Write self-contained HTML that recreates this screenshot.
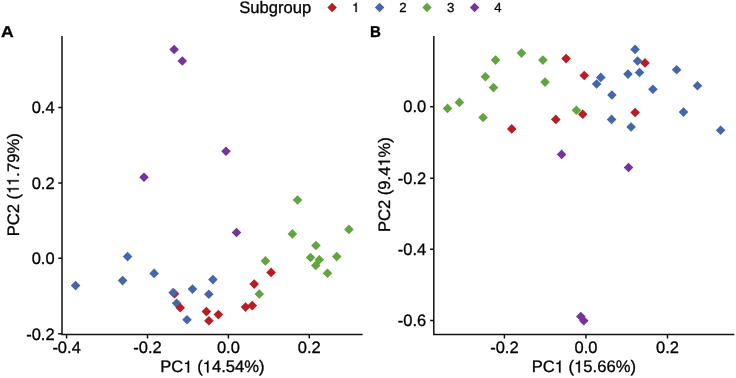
<!DOCTYPE html>
<html><head><meta charset="utf-8"><style>
html,body{margin:0;padding:0;background:#fff;}
body{width:736px;height:378px;overflow:hidden;font-family:"Liberation Sans",sans-serif;}
svg{display:block;will-change:transform;}
.o{fill-opacity:0;stroke-opacity:0;}
</style></head><body>
<svg width="736" height="378" viewBox="0 0 736 378" font-family="'Liberation Sans', sans-serif" font-size="16.5" fill="#000" text-rendering="geometricPrecision">
<rect width="736" height="378" fill="#fff"/>
<path d="M62.0 36V334.5H362.6" fill="none" stroke="#111" stroke-width="1.5"/><path d="M433.8 36V334.5H734.3" fill="none" stroke="#111" stroke-width="1.5"/><path d="M66.60 334.5V338.4 M147.50 334.5V338.4 M228.40 334.5V338.4 M309.30 334.5V338.4 M504.40 334.5V338.4 M585.95 334.5V338.4 M667.50 334.5V338.4 M58.2 107.50H62.0 M58.2 182.90H62.0 M58.2 258.30H62.0 M58.2 333.75H62.0 M430.1 106.75H433.8 M430.1 178.20H433.8 M430.1 249.30H433.8 M430.1 320.60H433.8" fill="none" stroke="#111" stroke-width="1.5"/>
<path d="M169.80 293.80L174.60 289.00L179.40 293.80L174.60 298.60Z" fill="#B71E23"/><path d="M70.80 285.60L75.60 280.80L80.40 285.60L75.60 290.40ZM122.80 256.60L127.60 251.80L132.40 256.60L127.60 261.40ZM117.80 280.60L122.60 275.80L127.40 280.60L122.60 285.40ZM149.30 273.40L154.10 268.60L158.90 273.40L154.10 278.20ZM168.40 292.60L173.20 287.80L178.00 292.60L173.20 297.40ZM187.70 289.10L192.50 284.30L197.30 289.10L192.50 293.90ZM208.10 279.60L212.90 274.80L217.70 279.60L212.90 284.40ZM204.00 294.20L208.80 289.40L213.60 294.20L208.80 299.00ZM171.80 303.20L176.60 298.40L181.40 303.20L176.60 308.00ZM182.20 319.75L187.00 314.95L191.80 319.75L187.00 324.55Z" fill="#4566A9"/><path d="M266.30 272.40L271.10 267.60L275.90 272.40L271.10 277.20ZM249.40 284.10L254.20 279.30L259.00 284.10L254.20 288.90ZM247.45 305.60L252.25 300.80L257.05 305.60L252.25 310.40ZM240.70 307.10L245.50 302.30L250.30 307.10L245.50 311.90ZM201.60 311.60L206.40 306.80L211.20 311.60L206.40 316.40ZM213.60 314.60L218.40 309.80L223.20 314.60L218.40 319.40ZM204.10 320.75L208.90 315.95L213.70 320.75L208.90 325.55ZM175.40 307.80L180.20 303.00L185.00 307.80L180.20 312.60Z" fill="#B71E23"/><path d="M292.70 200.00L297.50 195.20L302.30 200.00L297.50 204.80ZM287.60 233.90L292.40 229.10L297.20 233.90L292.40 238.70ZM344.10 229.40L348.90 224.60L353.70 229.40L348.90 234.20ZM311.10 245.50L315.90 240.70L320.70 245.50L315.90 250.30ZM305.70 257.50L310.50 252.70L315.30 257.50L310.50 262.30ZM314.50 259.75L319.30 254.95L324.10 259.75L319.30 264.55ZM310.95 265.50L315.75 260.70L320.55 265.50L315.75 270.30ZM331.95 256.60L336.75 251.80L341.55 256.60L336.75 261.40ZM322.70 273.20L327.50 268.40L332.30 273.20L327.50 278.00ZM260.60 260.90L265.40 256.10L270.20 260.90L265.40 265.70ZM254.45 294.00L259.25 289.20L264.05 294.00L259.25 298.80Z" fill="#63A440"/><path d="M169.30 49.50L174.10 44.70L178.90 49.50L174.10 54.30ZM177.50 61.00L182.30 56.20L187.10 61.00L182.30 65.80ZM139.20 177.25L144.00 172.45L148.80 177.25L144.00 182.05ZM221.20 151.25L226.00 146.45L230.80 151.25L226.00 156.05ZM231.70 232.50L236.50 227.70L241.30 232.50L236.50 237.30Z" fill="#76349A"/><path d="M490.80 60.10L495.60 55.30L500.40 60.10L495.60 64.90ZM480.60 76.80L485.40 72.00L490.20 76.80L485.40 81.60ZM516.70 53.10L521.50 48.30L526.30 53.10L521.50 57.90ZM538.10 60.10L542.90 55.30L547.70 60.10L542.90 64.90ZM488.70 87.60L493.50 82.80L498.30 87.60L493.50 92.40ZM454.60 102.40L459.40 97.60L464.20 102.40L459.40 107.20ZM442.70 108.40L447.50 103.60L452.30 108.40L447.50 113.20ZM478.30 117.50L483.10 112.70L487.90 117.50L483.10 122.30ZM540.20 82.10L545.00 77.30L549.80 82.10L545.00 86.90ZM571.60 110.25L576.40 105.45L581.20 110.25L576.40 115.05Z" fill="#63A440"/><path d="M630.30 49.40L635.10 44.60L639.90 49.40L635.10 54.20ZM632.80 61.00L637.60 56.20L642.40 61.00L637.60 65.80ZM634.70 72.50L639.50 67.70L644.30 72.50L639.50 77.30ZM623.20 74.10L628.00 69.30L632.80 74.10L628.00 78.90ZM595.95 77.40L600.75 72.60L605.55 77.40L600.75 82.20ZM591.80 84.00L596.60 79.20L601.40 84.00L596.60 88.80ZM671.80 69.80L676.60 65.00L681.40 69.80L676.60 74.60ZM692.70 85.80L697.50 81.00L702.30 85.80L697.50 90.60ZM648.10 89.30L652.90 84.50L657.70 89.30L652.90 94.10ZM607.10 95.00L611.90 90.20L616.70 95.00L611.90 99.80ZM678.70 112.10L683.50 107.30L688.30 112.10L683.50 116.90ZM715.80 130.25L720.60 125.45L725.40 130.25L720.60 135.05ZM606.80 119.40L611.60 114.60L616.40 119.40L611.60 124.20ZM626.30 127.00L631.10 122.20L635.90 127.00L631.10 131.80Z" fill="#4566A9"/><path d="M561.30 58.60L566.10 53.80L570.90 58.60L566.10 63.40ZM579.45 75.50L584.25 70.70L589.05 75.50L584.25 80.30ZM506.95 128.90L511.75 124.10L516.55 128.90L511.75 133.70ZM550.95 119.40L555.75 114.60L560.55 119.40L555.75 124.20ZM577.95 114.20L582.75 109.40L587.55 114.20L582.75 119.00ZM640.20 62.90L645.00 58.10L649.80 62.90L645.00 67.70ZM630.30 112.50L635.10 107.70L639.90 112.50L635.10 117.30Z" fill="#B71E23"/><path d="M556.80 154.40L561.60 149.60L566.40 154.40L561.60 159.20ZM623.70 167.50L628.50 162.70L633.30 167.50L628.50 172.30ZM576.00 316.50L580.80 311.70L585.60 316.50L580.80 321.30ZM579.00 320.80L583.80 316.00L588.60 320.80L583.80 325.60Z" fill="#76349A"/>
<g stroke="#000" stroke-width="0.3"><text id="t0" x="66.60" y="353.25" text-anchor="middle">-0.4</text><text id="t1" x="147.50" y="353.25" text-anchor="middle">-0.2</text><text id="t2" x="228.40" y="353.25" text-anchor="middle">0.0</text><text id="t3" x="309.30" y="353.25" text-anchor="middle">0.2</text><text id="t4" x="504.40" y="353.25" text-anchor="middle">-0.2</text><text id="t5" x="585.95" y="353.25" text-anchor="middle">0.0</text><text id="t6" x="667.50" y="353.25" text-anchor="middle">0.2</text><text id="t7" x="54.6" y="113.40" text-anchor="end">0.4</text><text id="t8" x="54.6" y="188.80" text-anchor="end">0.2</text><text id="t9" x="54.6" y="264.20" text-anchor="end">0.0</text><text id="t10" x="54.6" y="339.65" text-anchor="end">-0.2</text><text id="t11" x="426.2" y="112.25" text-anchor="end">0.0</text><text id="t12" x="426.2" y="183.70" text-anchor="end">-0.2</text><text id="t13" x="426.2" y="254.80" text-anchor="end">-0.4</text><text id="t14" x="426.2" y="326.10" text-anchor="end">-0.6</text><text id="t15" x="212.4" y="372.4" text-anchor="middle" font-size="16.6">PC<tspan class="o">1</tspan> (<tspan class="o">1</tspan>4.54%)</text><text id="t16" x="583.8" y="372.4" text-anchor="middle" font-size="16.6">PC<tspan class="o">1</tspan> (<tspan class="o">1</tspan>5.66%)</text><text id="t17" transform="translate(18.75 184.8) rotate(-90)" x="0" y="0" text-anchor="middle" font-size="16.6">PC2 (<tspan class="o">1</tspan><tspan class="o">1</tspan>.79%)</text><text id="t18" transform="translate(390 184.6) rotate(-90)" x="0" y="0" text-anchor="middle" font-size="16.6">PC2 (9.4<tspan class="o">1</tspan>%)</text><text id="t19" x="239.2" y="13.4" font-size="16.6">Subgroup</text><text id="t20" x="352.1" y="12.1" font-size="13.2"><tspan class="o">1</tspan></text><text id="t21" x="399.3" y="12.1" font-size="13.2">2</text><text id="t22" x="447.1" y="12.1" font-size="13.2">3</text><text id="t23" x="494.2" y="12.1" font-size="13.2">4</text><path d="M189.10 372.40V360.63H188.13C187.62 362.44 187.29 362.69 185.03 362.97V364.02H187.64V372.40ZM208.47 372.40V360.63H207.51C207.00 362.44 206.66 362.69 204.41 362.97V364.02H207.01V372.40Z"/><path d="M560.50 372.40V360.63H559.53C559.02 362.44 558.69 362.69 556.43 362.97V364.02H559.04V372.40ZM579.87 372.40V360.63H578.91C578.40 362.44 578.06 362.69 575.81 362.97V364.02H578.41V372.40Z"/><path transform="translate(18.75 184.8) rotate(-90)" d="M-3.33 0.00V-11.77H-4.29C-4.80 -9.96 -5.14 -9.71 -7.39 -9.43V-8.38H-4.79V0.00ZM4.67 0.00V-11.77H3.71C3.20 -9.96 2.86 -9.71 0.61 -9.43V-8.38H3.21V0.00Z"/><path transform="translate(390 184.6) rotate(-90)" d="M23.74 0.00V-11.77H22.78C22.27 -9.96 21.94 -9.71 19.68 -9.43V-8.38H22.28V0.00Z"/><path d="M356.68 12.10V2.74H355.91C355.51 4.18 355.24 4.38 353.45 4.60V5.43H355.52V12.10Z"/></g>
<path d="M327.40 7.50L332.10 2.80L336.80 7.50L332.10 12.20Z" fill="#B71E23"/><path d="M374.90 7.50L379.60 2.80L384.30 7.50L379.60 12.20Z" fill="#4566A9"/><path d="M422.30 7.50L427.00 2.80L431.70 7.50L427.00 12.20Z" fill="#63A440"/><path d="M469.90 7.50L474.60 2.80L479.30 7.50L474.60 12.20Z" fill="#76349A"/>
<g stroke="#000" stroke-width="0.3"><text transform="translate(1.0 37.35) scale(1.13 1)" font-weight="bold" font-size="15.6">A</text><text transform="translate(370.0 37.35) scale(0.97 1)" font-weight="bold" font-size="15.6">B</text></g>
</svg>
</body></html>
